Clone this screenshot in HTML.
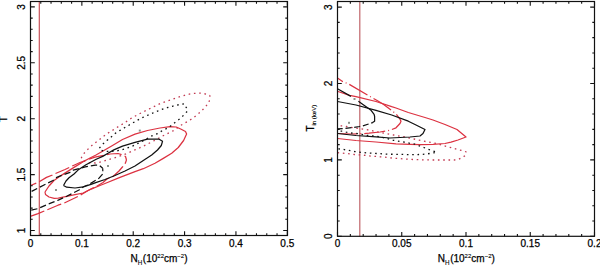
<!DOCTYPE html>
<html><head><meta charset="utf-8"><style>
html,body{margin:0;padding:0;background:#fff;}
body{width:600px;height:265px;overflow:hidden;}
svg{display:block;}
</style></head><body>
<svg width="600" height="265" viewBox="0 0 600 265">
<defs><clipPath id="cl"><rect x="30.5" y="1.5" width="257.0" height="234.0"/></clipPath><clipPath id="cr"><rect x="337.5" y="1.5" width="257.0" height="234.8"/></clipPath></defs>
<rect width="600" height="265" fill="#fff"/>
<line x1="38.5" y1="1.5" x2="38.5" y2="235.5" stroke="#f8caca" stroke-width="1"/>
<line x1="39.5" y1="1.5" x2="39.5" y2="235.5" stroke="#c8646c" stroke-width="1"/>
<polyline points="81.3,158.2 82.2,155.4 86.0,151.2 89.9,147.2 94.3,143.5 98.7,140.3 103.1,136.6 107.5,133.4 111.8,130.8 116.1,128.0 119.2,126.1 124.0,123.2 128.8,119.8 132.5,117.5 137.5,114.8 145.0,111.0 149.4,108.8 155.0,106.1 161.2,103.1 166.4,101.4 172.3,99.3 176.4,97.9 181.1,96.4 184.6,95.3 189.3,94.1 193.4,93.4 198.1,93.2 201.6,93.2 206.3,94.1 209.8,95.5 210.1,98.5 208.6,103.1 205.1,107.0 201.6,111.0 197.5,114.5 193.1,118.0 188.8,120.8 180.0,125.8 173.8,130.5 167.5,133.6 162.5,136.1 155.0,140.2 147.5,144.1 141.5,147.1 135.0,149.8 129.0,152.6 123.0,155.0 117.0,157.0 113.0,158.3 107.6,159.8 103.7,161.2 98.9,162.4 95.5,163.0 89.0,162.8 84.0,161.0 81.3,158.2" fill="none" stroke="#c23a52" stroke-width="1.3" stroke-dasharray="1.6 3.7" stroke-linejoin="round"/>
<polyline points="20.0,189.5 30.5,185.5 38.0,182.5 46.5,177.4 52.5,175.0 55.5,173.5 65.0,169.5 74.0,165.2 80.0,162.5 89.0,159.1 95.0,157.2 98.6,156.3 104.0,155.3 110.0,154.0 118.0,153.5 123.0,155.0 125.5,156.5 126.5,160.0" fill="none" stroke="#dc3241" stroke-width="1.25" stroke-dasharray="15 3.3" stroke-dashoffset="-39.04" clip-path="url(#cl)" stroke-linejoin="round"/>
<polyline points="126.5,160.0 125.0,164.0 122.0,167.5 119.0,171.0 113.0,176.5 107.0,179.0 103.0,182.5 98.0,185.5 88.0,190.5 78.3,196.3 64.2,203.0 58.0,205.2 48.0,209.5 38.0,213.6 31.0,216.2 20.0,220.0" fill="none" stroke="#dc3241" stroke-width="1.25" stroke-dasharray="15 3.3" stroke-dashoffset="-62.24" clip-path="url(#cl)" stroke-linejoin="round"/>
<polyline points="45.0,192.0 45.5,194.5 49.0,197.0 54.2,198.4 58.3,198.2 66.7,196.3 75.0,194.7 83.3,193.0 91.7,188.8 100.0,185.5 105.0,183.5 120.0,177.3 135.0,171.6 143.3,168.7 155.0,163.3 163.3,158.4 171.7,153.3 178.3,147.5 183.6,140.5 186.6,134.0 185.5,131.5 181.2,129.2 176.2,127.0 170.0,126.6 160.0,128.0 147.5,130.5 135.0,134.2 122.5,139.5 112.5,145.5 103.0,151.0 96.0,155.0 90.0,158.0 84.0,161.2 74.0,167.4 61.0,175.6 57.5,178.0 54.0,180.5 49.0,186.0 45.0,192.0" fill="none" stroke="#dc3241" stroke-width="1.25" stroke-linejoin="round"/>
<polyline points="99.4,148.1 102.5,144.4 106.9,140.6 111.2,136.9 115.6,133.1 120.0,130.4 124.4,127.8 127.5,126.0 132.5,123.1 137.5,120.2 141.2,118.1 146.9,115.6 150.0,114.2 157.5,111.1 163.6,108.8 167.6,107.5 172.3,106.3 175.8,105.3 181.1,104.3 184.4,103.8 186.5,108.0 187.5,111.0 184.6,114.3 180.0,118.6 175.0,122.4 168.8,127.4 162.5,130.5 157.5,133.6 151.2,136.1 143.8,140.5 138.8,143.0 132.5,146.1 126.0,148.5 121.0,150.0 116.0,151.0 110.0,151.5 104.0,151.2 100.5,150.0 99.4,148.1" fill="none" stroke="#111" stroke-width="1.3" stroke-dasharray="1.6 3.7" stroke-linejoin="round"/>
<polyline points="20.0,197.0 30.5,192.0 38.0,188.0 48.0,183.0 53.0,180.5 57.3,177.1 62.0,175.3 70.0,172.3 73.3,170.1 85.3,166.9 89.9,166.0 95.4,165.1 99.0,165.1 102.7,168.3" fill="none" stroke="#111" stroke-width="1.25" stroke-dasharray="6.3 3" stroke-dashoffset="-40.80" clip-path="url(#cl)" stroke-linejoin="round"/>
<polyline points="102.7,168.3 102.9,173.8 99.0,178.2 94.5,181.0 89.0,184.5 83.0,187.0 79.0,190.0 66.7,196.3 58.3,200.1 50.0,203.4 38.0,208.6 30.5,210.4 20.0,213.2" fill="none" stroke="#111" stroke-width="1.25" stroke-dasharray="6.3 3" stroke-dashoffset="-52.49" clip-path="url(#cl)" stroke-linejoin="round"/>
<polyline points="63.5,185.5 66.7,187.2 75.0,188.0 83.3,186.8 91.7,184.2 95.0,182.8 105.0,179.5 115.0,175.5 125.0,171.0 135.0,166.0 143.3,160.5 151.7,155.0 157.5,150.0 161.3,145.5 162.5,141.3 158.8,139.0 147.5,139.2 135.0,142.4 122.5,146.1 113.8,149.9 108.0,153.3 102.7,156.4 96.2,159.3 86.0,164.8 78.0,170.1 74.0,174.0 69.0,177.8 66.0,181.0 63.5,185.5" fill="none" stroke="#111" stroke-width="1.25" stroke-linejoin="round"/>
<rect x="55" y="189" width="2" height="2" fill="#8c948c"/>
<rect x="107" y="165" width="2" height="2" fill="#8c948c"/>
<rect x="138.8" y="129.6" width="2" height="2" fill="#8c948c"/>
<line x1="359.8" y1="1.5" x2="359.8" y2="236.3" stroke="#c0646a" stroke-width="1.2"/>
<polyline points="330.0,125.5 342.3,125.9 346.3,126.5 362.9,129.2 366.2,129.6 371.0,130.5 380.0,132.5 393.5,135.0 397.0,135.6 402.0,136.5 405.0,137.0 414.0,139.0 419.0,140.1 423.5,141.1 428.1,142.0 431.7,142.6 437.0,143.6 448.0,146.8 453.3,148.3 457.4,149.5 462.1,150.6 466.0,151.8 465.6,155.3 462.7,157.2 458.0,159.6 453.9,160.0 448.6,160.0 440.0,160.0 431.7,160.0 422.9,159.8 417.0,159.7 411.2,159.4 394.0,158.2 389.0,157.7 385.0,157.2 380.5,156.8 377.0,156.5 372.0,156.2 368.0,155.8 363.5,155.2 354.5,154.5 351.0,154.0 346.0,153.5 342.5,153.0 330.0,152.3" fill="none" stroke="#c23a52" stroke-width="1.3" stroke-dasharray="1.6 3.7" clip-path="url(#cr)" stroke-linejoin="round"/>
<polyline points="330.0,73.5 337.5,78.0 342.5,81.4 349.3,84.4 368.0,95.3 371.4,97.3 376.7,100.2 383.3,104.2 393.3,111.7 396.2,114.2 400.0,119.2 401.0,121.3 400.0,123.5 396.0,127.8 390.0,130.3 380.0,132.0 369.0,133.2 362.0,133.7 351.0,134.0 338.0,133.5 330.0,133.3" fill="none" stroke="#dc3241" stroke-width="1.25" stroke-dasharray="21 3 1 3" stroke-dashoffset="-22.23" clip-path="url(#cr)" stroke-linejoin="round"/>
<polyline points="330.0,89.0 338.0,91.5 349.6,95.3 356.0,96.6 376.0,101.5 391.7,106.7 396.0,108.0 408.3,112.5 425.0,117.5 433.0,120.0 445.0,124.5 457.0,129.5 466.0,137.0 458.0,140.0 451.0,142.1 445.0,143.5 433.0,144.4 420.0,144.6 410.0,144.3 396.0,143.8 376.0,142.0 356.0,140.5 337.5,138.5 330.0,137.8" fill="none" stroke="#dc3241" stroke-width="1.25" clip-path="url(#cr)" stroke-linejoin="round"/>
<polyline points="330.0,131.0 342.3,131.2 346.3,132.2 351.0,133.0 356.0,133.4 364.0,134.8 368.0,135.5 372.0,135.8 377.0,136.3 381.0,137.0 393.5,140.3 397.0,141.0 402.0,141.7 406.0,142.5 411.0,143.5 415.0,144.2 422.9,147.1 427.6,149.1 431.7,150.5 436.7,152.2 431.7,153.2 427.6,153.8 422.9,154.4 419.4,154.5 414.7,154.6 410.6,154.6 394.0,154.3 389.0,154.2 385.0,154.0 380.5,153.7 377.0,153.5 372.0,153.2 368.0,153.0 362.5,152.5 354.5,151.5 351.0,150.8 346.0,150.0 342.5,149.2 330.0,148.3" fill="none" stroke="#111" stroke-width="1.3" stroke-dasharray="1.6 3.7" clip-path="url(#cr)" stroke-linejoin="round"/>
<polyline points="330.0,84.0 337.5,88.7 350.9,96.4" fill="none" stroke="#111" stroke-width="1.25" clip-path="url(#cr)" stroke-linejoin="round"/>
<polyline points="358.4,101.2 364.0,105.2 370.7,109.9 374.1,114.3 374.6,116.3 374.6,121.2 372.6,122.6 371.2,123.1" fill="none" stroke="#111" stroke-width="1.25" clip-path="url(#cr)" stroke-linejoin="round"/>
<polyline points="371.2,123.1 368.6,124.0 362.6,125.9 359.6,126.5 351.7,127.7 343.2,128.6 337.5,128.9 330.0,129.2" fill="none" stroke="#111" stroke-width="1.25" stroke-dasharray="6 2.8" stroke-dashoffset="-2.75" clip-path="url(#cr)" stroke-linejoin="round"/>
<polyline points="330.0,100.0 337.5,101.5 356.0,105.0 376.0,110.3 391.7,115.0 408.3,121.2 415.0,124.5 425.0,129.5 423.0,133.5 420.0,136.0 410.0,137.0 390.0,138.0 376.0,136.8 356.0,135.5 337.5,133.5 330.0,133.0" fill="none" stroke="#111" stroke-width="1.25" clip-path="url(#cr)" stroke-linejoin="round"/>
<rect x="348" y="121.8" width="2" height="2" fill="#8c948c"/>
<rect x="353.5" y="98" width="2" height="2" fill="#8c948c"/>
<rect x="30.5" y="1.5" width="257.0" height="234.0" fill="none" stroke="#111" stroke-width="1.2"/>
<path d="M30.50 235.50L30.50 231.20 M30.50 1.50L30.50 5.80 M81.86 235.50L81.86 231.20 M81.86 1.50L81.86 5.80 M133.22 235.50L133.22 231.20 M133.22 1.50L133.22 5.80 M184.58 235.50L184.58 231.20 M184.58 1.50L184.58 5.80 M235.94 235.50L235.94 231.20 M235.94 1.50L235.94 5.80 M287.30 235.50L287.30 231.20 M287.30 1.50L287.30 5.80 M40.77 235.50L40.77 233.30 M40.77 1.50L40.77 3.70 M51.04 235.50L51.04 233.30 M51.04 1.50L51.04 3.70 M61.32 235.50L61.32 233.30 M61.32 1.50L61.32 3.70 M71.59 235.50L71.59 233.30 M71.59 1.50L71.59 3.70 M92.13 235.50L92.13 233.30 M92.13 1.50L92.13 3.70 M102.40 235.50L102.40 233.30 M102.40 1.50L102.40 3.70 M112.68 235.50L112.68 233.30 M112.68 1.50L112.68 3.70 M122.95 235.50L122.95 233.30 M122.95 1.50L122.95 3.70 M143.49 235.50L143.49 233.30 M143.49 1.50L143.49 3.70 M153.76 235.50L153.76 233.30 M153.76 1.50L153.76 3.70 M164.04 235.50L164.04 233.30 M164.04 1.50L164.04 3.70 M174.31 235.50L174.31 233.30 M174.31 1.50L174.31 3.70 M194.85 235.50L194.85 233.30 M194.85 1.50L194.85 3.70 M205.12 235.50L205.12 233.30 M205.12 1.50L205.12 3.70 M215.40 235.50L215.40 233.30 M215.40 1.50L215.40 3.70 M225.67 235.50L225.67 233.30 M225.67 1.50L225.67 3.70 M246.21 235.50L246.21 233.30 M246.21 1.50L246.21 3.70 M256.48 235.50L256.48 233.30 M256.48 1.50L256.48 3.70 M266.76 235.50L266.76 233.30 M266.76 1.50L266.76 3.70 M277.03 235.50L277.03 233.30 M277.03 1.50L277.03 3.70 M30.50 230.50L34.80 230.50 M287.50 230.50L283.20 230.50 M30.50 174.60L34.80 174.60 M287.50 174.60L283.20 174.60 M30.50 118.70L34.80 118.70 M287.50 118.70L283.20 118.70 M30.50 62.80L34.80 62.80 M287.50 62.80L283.20 62.80 M30.50 6.90L34.80 6.90 M287.50 6.90L283.20 6.90 M30.50 219.32L32.70 219.32 M287.50 219.32L285.30 219.32 M30.50 208.14L32.70 208.14 M287.50 208.14L285.30 208.14 M30.50 196.96L32.70 196.96 M287.50 196.96L285.30 196.96 M30.50 185.78L32.70 185.78 M287.50 185.78L285.30 185.78 M30.50 163.42L32.70 163.42 M287.50 163.42L285.30 163.42 M30.50 152.24L32.70 152.24 M287.50 152.24L285.30 152.24 M30.50 141.06L32.70 141.06 M287.50 141.06L285.30 141.06 M30.50 129.88L32.70 129.88 M287.50 129.88L285.30 129.88 M30.50 107.52L32.70 107.52 M287.50 107.52L285.30 107.52 M30.50 96.34L32.70 96.34 M287.50 96.34L285.30 96.34 M30.50 85.16L32.70 85.16 M287.50 85.16L285.30 85.16 M30.50 73.98L32.70 73.98 M287.50 73.98L285.30 73.98 M30.50 51.62L32.70 51.62 M287.50 51.62L285.30 51.62 M30.50 40.44L32.70 40.44 M287.50 40.44L285.30 40.44 M30.50 29.26L32.70 29.26 M287.50 29.26L285.30 29.26 M30.50 18.08L32.70 18.08 M287.50 18.08L285.30 18.08" stroke="#111" stroke-width="1.1" fill="none"/>
<rect x="337.5" y="1.5" width="257.0" height="234.8" fill="none" stroke="#111" stroke-width="1.2"/>
<path d="M337.50 236.30L337.50 232.00 M337.50 1.50L337.50 5.80 M401.75 236.30L401.75 232.00 M401.75 1.50L401.75 5.80 M466.00 236.30L466.00 232.00 M466.00 1.50L466.00 5.80 M530.25 236.30L530.25 232.00 M530.25 1.50L530.25 5.80 M594.50 236.30L594.50 232.00 M594.50 1.50L594.50 5.80 M350.35 236.30L350.35 234.10 M350.35 1.50L350.35 3.70 M363.20 236.30L363.20 234.10 M363.20 1.50L363.20 3.70 M376.05 236.30L376.05 234.10 M376.05 1.50L376.05 3.70 M388.90 236.30L388.90 234.10 M388.90 1.50L388.90 3.70 M414.60 236.30L414.60 234.10 M414.60 1.50L414.60 3.70 M427.45 236.30L427.45 234.10 M427.45 1.50L427.45 3.70 M440.30 236.30L440.30 234.10 M440.30 1.50L440.30 3.70 M453.15 236.30L453.15 234.10 M453.15 1.50L453.15 3.70 M478.85 236.30L478.85 234.10 M478.85 1.50L478.85 3.70 M491.70 236.30L491.70 234.10 M491.70 1.50L491.70 3.70 M504.55 236.30L504.55 234.10 M504.55 1.50L504.55 3.70 M517.40 236.30L517.40 234.10 M517.40 1.50L517.40 3.70 M543.10 236.30L543.10 234.10 M543.10 1.50L543.10 3.70 M555.95 236.30L555.95 234.10 M555.95 1.50L555.95 3.70 M568.80 236.30L568.80 234.10 M568.80 1.50L568.80 3.70 M581.65 236.30L581.65 234.10 M581.65 1.50L581.65 3.70 M337.50 236.30L341.80 236.30 M594.50 236.30L590.20 236.30 M337.50 159.90L341.80 159.90 M594.50 159.90L590.20 159.90 M337.50 83.50L341.80 83.50 M594.50 83.50L590.20 83.50 M337.50 7.10L341.80 7.10 M594.50 7.10L590.20 7.10 M337.50 221.02L339.70 221.02 M594.50 221.02L592.30 221.02 M337.50 205.74L339.70 205.74 M594.50 205.74L592.30 205.74 M337.50 190.46L339.70 190.46 M594.50 190.46L592.30 190.46 M337.50 175.18L339.70 175.18 M594.50 175.18L592.30 175.18 M337.50 144.62L339.70 144.62 M594.50 144.62L592.30 144.62 M337.50 129.34L339.70 129.34 M594.50 129.34L592.30 129.34 M337.50 114.06L339.70 114.06 M594.50 114.06L592.30 114.06 M337.50 98.78L339.70 98.78 M594.50 98.78L592.30 98.78 M337.50 68.22L339.70 68.22 M594.50 68.22L592.30 68.22 M337.50 52.94L339.70 52.94 M594.50 52.94L592.30 52.94 M337.50 37.66L339.70 37.66 M594.50 37.66L592.30 37.66 M337.50 22.38L339.70 22.38 M594.50 22.38L592.30 22.38" stroke="#111" stroke-width="1.1" fill="none"/>
<g font-family='"Liberation Sans", sans-serif' fill="#000" stroke="#000" stroke-width="0.25">
<text x="30.50" y="246.80" font-size="10" text-anchor="middle" >0</text>
<text x="81.86" y="246.80" font-size="10" text-anchor="middle" >0.1</text>
<text x="133.22" y="246.80" font-size="10" text-anchor="middle" >0.2</text>
<text x="184.58" y="246.80" font-size="10" text-anchor="middle" >0.3</text>
<text x="235.94" y="246.80" font-size="10" text-anchor="middle" >0.4</text>
<text x="287.30" y="246.80" font-size="10" text-anchor="middle" >0.5</text>
<text x="337.50" y="247.20" font-size="10" text-anchor="middle" >0</text>
<text x="401.75" y="247.20" font-size="10" text-anchor="middle" >0.05</text>
<text x="466.00" y="247.20" font-size="10" text-anchor="middle" >0.1</text>
<text x="530.25" y="247.20" font-size="10" text-anchor="middle" >0.15</text>
<text x="594.50" y="247.20" font-size="10" text-anchor="middle" >0.2</text>
<text transform="translate(24.80,230.50) rotate(-90)" font-size="10" text-anchor="middle">1</text>
<text transform="translate(24.80,174.60) rotate(-90)" font-size="10" text-anchor="middle">1.5</text>
<text transform="translate(24.80,118.70) rotate(-90)" font-size="10" text-anchor="middle">2</text>
<text transform="translate(24.80,62.80) rotate(-90)" font-size="10" text-anchor="middle">2.5</text>
<text transform="translate(24.80,6.90) rotate(-90)" font-size="10" text-anchor="middle">3</text>
<text transform="translate(332.10,236.30) rotate(-90)" font-size="10" text-anchor="middle">0</text>
<text transform="translate(332.10,159.90) rotate(-90)" font-size="10" text-anchor="middle">1</text>
<text transform="translate(332.10,83.50) rotate(-90)" font-size="10" text-anchor="middle">2</text>
<text transform="translate(332.10,7.10) rotate(-90)" font-size="10" text-anchor="middle">3</text>
<text x="159.00" y="262" font-size="10" text-anchor="middle">N<tspan font-size="6.3" dy="2.9" stroke-width="0.1">H</tspan><tspan dy="-2.9" dx="0.6">(10</tspan><tspan font-size="6" dy="-4" stroke-width="0.1">22</tspan><tspan dy="4">cm</tspan><tspan font-size="6" dy="-4" stroke-width="0.1">&#8722;2</tspan><tspan dy="4">)</tspan></text>
<text x="466.30" y="262" font-size="10" text-anchor="middle">N<tspan font-size="6.3" dy="2.9" stroke-width="0.1">H</tspan><tspan dy="-2.9" dx="0.6">(10</tspan><tspan font-size="6" dy="-4" stroke-width="0.1">22</tspan><tspan dy="4">cm</tspan><tspan font-size="6" dy="-4" stroke-width="0.1">&#8722;2</tspan><tspan dy="4">)</tspan></text>
<text transform="translate(6.8,119.2) rotate(-90)" font-size="10" text-anchor="middle">T</text>
<text transform="translate(314.3,118.2) rotate(-90)" font-size="10" text-anchor="middle">T<tspan font-size="6" dy="2" stroke-width="0.15">in (keV)</tspan></text>
</g>
</svg>
</body></html>
